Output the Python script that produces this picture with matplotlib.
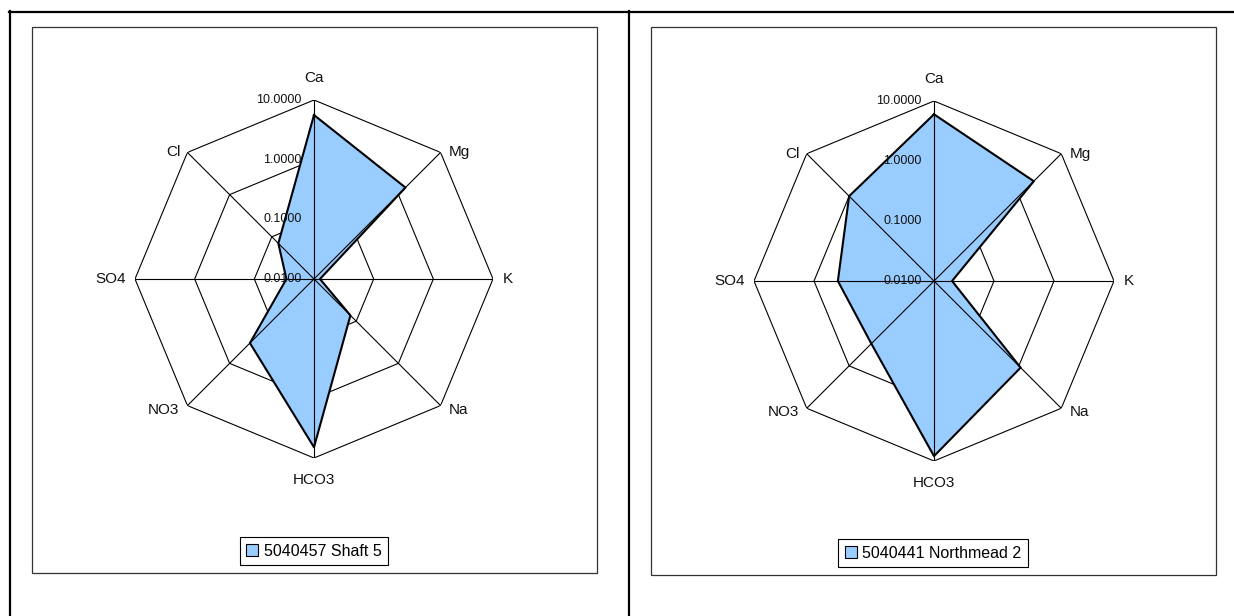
import numpy as np
import matplotlib
matplotlib.use('Agg')
import matplotlib.pyplot as plt
from matplotlib.patches import Patch, Rectangle
from matplotlib.lines import Line2D

plt.rcParams['font.family'] = ['Liberation Sans', 'DejaVu Sans']

# ionic composition per bore (log scale)
ions = ['Ca', 'Mg', 'K', 'Na', 'HCO3', 'NO3', 'SO4', 'Cl']
shaft5 = [5.6, 1.47, 0.0126, 0.073, 6.6, 0.33, 0.029, 0.07]
northmead2 = [6.0, 2.25, 0.02, 1.1, 8.3, 0.3, 0.4, 1.0]
ring_values = [0.01, 0.1, 1.0, 10.0]
ring_labels = ['0.0100', '0.1000', '1.0000', '10.0000']

W, H = 1234, 616
FILL = '#99CCFF'


def fx(px):
    return px / W


def fy(py):
    return 1 - py / H


def label_offset(angle_deg):
    # pixel offset and alignment of category labels around the web
    a = angle_deg % 360
    if a == 0:
        return (0, 22), 'center', 'center'
    if a == 180:
        return (0, -22), 'center', 'center'
    if a == 90:
        return (10, 0), 'left', 'center'
    if a == 270:
        return (-9, 0), 'right', 'center'
    if a == 45:
        return (8, 0), 'left', 'center'
    if a == 315:
        return (-7, 0), 'right', 'center'
    if a == 135:
        return (8, -4), 'left', 'center'
    return (-8, -4), 'right', 'center'


def radar(fig, cx, cy, radius, values, name, legend_xy):
    ax = fig.add_axes([fx(cx - radius), fy(cy + radius),
                       2 * radius / W, 2 * radius / H], projection='polar')
    ax.set_theta_zero_location('N')
    ax.set_theta_direction(-1)
    ax.set_rscale('log')
    ax.set_rlim(ring_values[0], ring_values[-1])
    ax.grid(False)
    ax.spines['polar'].set_visible(False)
    ax.set_xticks([])
    ax.set_yticks([])
    ax.yaxis.set_minor_locator(matplotlib.ticker.NullLocator())
    ax.set_facecolor('none')

    angles = np.arange(len(ions)) * 2 * np.pi / len(ions)
    closed = np.append(angles, angles[0])

    # octagonal rings under the fill
    for v in ring_values[1:]:
        ax.plot(closed, [v] * len(closed), color='black', lw=0.8, zorder=1)

    vals = np.append(values, values[0])
    ax.fill(closed, vals, facecolor=FILL, edgecolor='none', zorder=2)

    # spokes drawn over the fill
    for a in angles:
        ax.plot([a, a], [ring_values[0], ring_values[-1]],
                color='black', lw=0.8, zorder=3)

    ax.plot(closed, vals, color='black', lw=1.5, zorder=4)

    for a, name_ in zip(angles, ions):
        off, ha, va = label_offset(np.degrees(a))
        ax.annotate(name_, xy=(a, ring_values[-1]), xytext=(off[0] * 0.72, off[1] * 0.72),
                    textcoords='offset points', ha=ha, va=va, fontsize=11,
                    color='#111111', annotation_clip=False)

    for v, txt in zip(ring_values, ring_labels):
        ax.annotate(txt, xy=(0, v), xytext=(-9, 0), textcoords='offset points',
                    ha='right', va='center', fontsize=9, color='#111111',
                    annotation_clip=False, zorder=5)

    handle = Patch(facecolor=FILL, edgecolor='black', lw=0.8)
    leg = ax.legend([handle], [name], loc='center',
                    bbox_to_anchor=(fx(legend_xy[0]), fy(legend_xy[1])),
                    bbox_transform=fig.transFigure, fontsize=11.5,
                    fancybox=False, framealpha=1, edgecolor='black',
                    handlelength=0.75, handleheight=0.75, handletextpad=0.35,
                    borderpad=0.4, borderaxespad=0)
    leg.get_frame().set_linewidth(0.8)
    return ax


fig = plt.figure(figsize=(W / 100, H / 100), dpi=100)

# chart area frames
for x0, x1, y0, y1 in [(32, 597, 27, 573), (651, 1216, 27, 575)]:
    fig.add_artist(Rectangle((fx(x0), fy(y1)), (x1 - x0) / W, (y1 - y0) / H,
                             transform=fig.transFigure, fill=False,
                             edgecolor='#333333', lw=0.9))

# page table lines
fig.add_artist(Line2D([fx(9), 1], [fy(11.5), fy(11.5)], transform=fig.transFigure,
                      color='black', lw=1.6))
fig.add_artist(Line2D([fx(10), fx(10)], [fy(11), 0], transform=fig.transFigure,
                      color='black', lw=1.6))
fig.add_artist(Line2D([fx(629.5), fx(629.5)], [fy(11), 0], transform=fig.transFigure,
                      color='black', lw=1.6))

radar(fig, 314, 279, 179, shaft5, '5040457 Shaft 5', (314, 551))
radar(fig, 934, 281, 180, northmead2, '5040441 Northmead 2', (933, 553))

fig.savefig('out.png', dpi=100, facecolor='white')
